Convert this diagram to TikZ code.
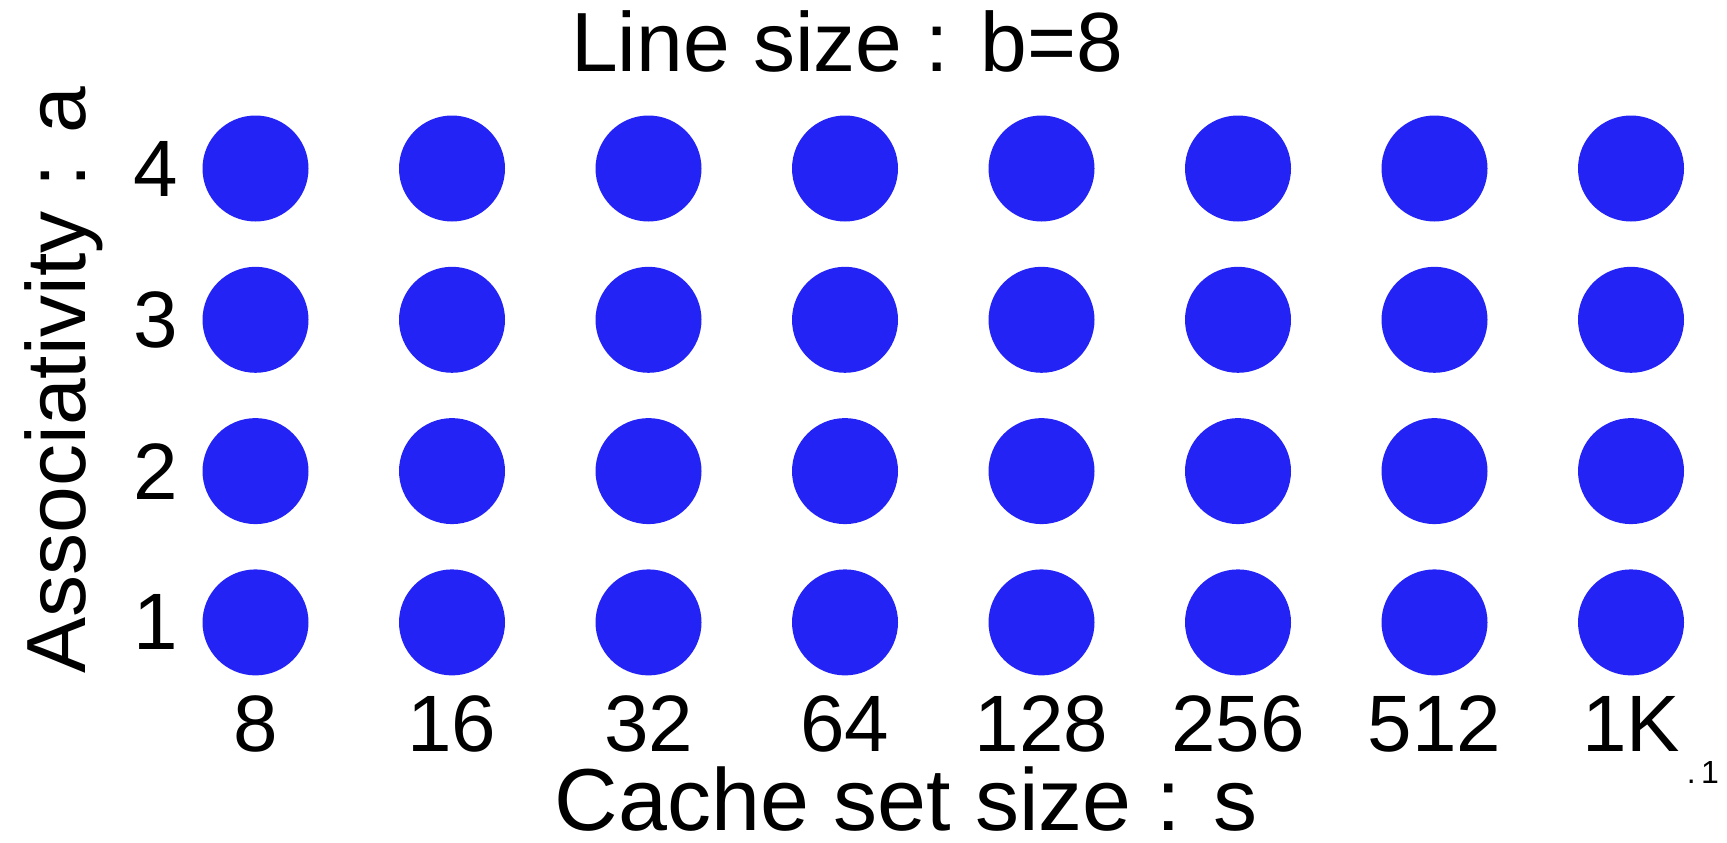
\documentclass[tikz,border=0pt]{standalone}
\usepackage{fontspec}
\setmainfont{Liberation Sans}
\definecolor{dotblue}{RGB}{35,35,245}
\begin{document}
\begin{tikzpicture}[x=1pt,y=-1pt,
  dot/.style={circle,fill=dotblue,draw=none,minimum size=106pt,inner sep=0pt},
  tick/.style={font=\fontsize{80}{80}\selectfont,inner sep=0pt},
  lab/.style={font=\fontsize{84}{84}\selectfont,inner sep=0pt}]
\useasboundingbox (0,0) rectangle (1727,843);
\node[lab,anchor=base] (title) at (847,72) {Line size : b=8};
\foreach \i/\s in {0/8,1/16,2/32,3/64,4/128,5/256,6/512,7/1K}{
  \foreach \j/\a in {0/4,1/3,2/2,3/1}{
    \node[dot] (c-\i-\j) at (255.5+196.5*\i,168.5+151.3*\j) {};
  }
  \node[tick,anchor=base] (x-\i) at (255.5+196.5*\i,751) {\s};
}
\foreach \j/\a in {0/4,1/3,2/2,3/1}{
  \node[tick,anchor=east] (y-\j) at (178,168.5+151.3*\j) {\a};
}
\node[lab,anchor=base,font=\fontsize{88}{88}\selectfont] (xlab) at (906,830) {Cache set size : s};
\node[lab,anchor=base,rotate=90] (ylab) at (85,380) {Associativity : a};
\node[anchor=base east,inner sep=0pt,font=\fontsize{32}{32}\selectfont] (exp) at (1719,783) {.\,1};
\end{tikzpicture}
\end{document}
